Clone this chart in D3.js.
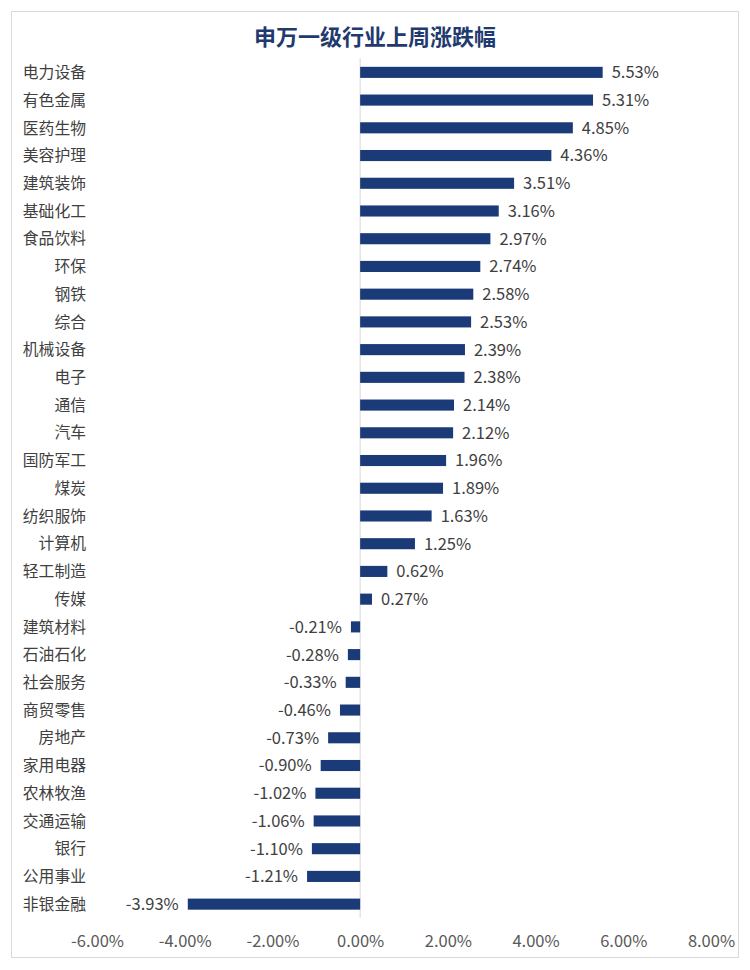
<!DOCTYPE html>
<html>
<head>
<meta charset="utf-8">
<script src="https://cdn.jsdelivr.net/npm/d3@7"></script>
<style>
  body { margin: 0; background: #fff; }
  svg text { font-family: "Noto Sans CJK SC", "Noto Sans", sans-serif; }
</style>
</head>
<body>
<div id="chart"></div>
<script>
// Chart size
var svgWidth = 750;
var svgHeight = 970;

// Data
var industries = ["电力设备", "有色金属", "医药生物", "美容护理", "建筑装饰", "基础化工", "食品饮料",
  "环保", "钢铁", "综合", "机械设备", "电子", "通信", "汽车", "国防军工", "煤炭", "纺织服饰",
  "计算机", "轻工制造", "传媒", "建筑材料", "石油石化", "社会服务", "商贸零售", "房地产",
  "家用电器", "农林牧渔", "交通运输", "银行", "公用事业", "非银金融"];
var changes = [5.53, 5.31, 4.85, 4.36, 3.51, 3.16, 2.97, 2.74, 2.58, 2.53, 2.39, 2.38, 2.14, 2.12,
  1.96, 1.89, 1.63, 1.25, 0.62, 0.27, -0.21, -0.28, -0.33, -0.46, -0.73, -0.90, -1.02, -1.06,
  -1.10, -1.21, -3.93];
var xTicks = [-6, -4, -2, 0, 2, 4, 6, 8];

var barColor = "#1b3a78";
var textColor = "#404040";

var svg = d3.select("#chart")
  .append("svg")
  .attr("width", svgWidth)
  .attr("height", svgHeight);

// frame
svg.append("rect")
  .attr("x", 11.5).attr("y", 11.5)
  .attr("width", 727).attr("height", 946)
  .attr("fill", "none")
  .attr("stroke", "#d9d9d9");

// title
svg.append("text")
  .attr("x", 375).attr("y", 45)
  .attr("text-anchor", "middle")
  .attr("font-size", 22)
  .attr("font-weight", "bold")
  .attr("fill", "#1f3a6e")
  .text("申万一级行业上周涨跌幅");

// scales
var xScale = d3.scaleLinear().domain([-6, 8]).range([97, 711]);
var yScale = d3.scaleBand().domain(industries).range([58.5, 918]).paddingInner(0.6).paddingOuter(0.3);

// zero line
svg.append("line")
  .attr("x1", xScale(0)).attr("x2", xScale(0))
  .attr("y1", 58).attr("y2", 918)
  .attr("stroke", "#d9d9d9");

var rows = industries.map(function(d, i) { return { name: d, value: changes[i] }; });

// bars
svg.append("g").selectAll("rect")
  .data(rows)
  .enter()
  .append("rect")
  .attr("x", d => xScale(Math.min(0, d.value)))
  .attr("y", d => yScale(d.name))
  .attr("width", d => Math.abs(xScale(d.value) - xScale(0)))
  .attr("height", yScale.bandwidth())
  .attr("fill", barColor);

// value labels
svg.append("g").selectAll("text")
  .data(rows)
  .enter()
  .append("text")
  .attr("x", d => d.value >= 0 ? xScale(d.value) + 9 : xScale(d.value) - 9)
  .attr("y", d => yScale(d.name) + yScale.bandwidth() / 2)
  .attr("dy", "0.36em")
  .attr("text-anchor", d => d.value >= 0 ? "start" : "end")
  .attr("font-size", 16.5)
  .attr("fill", textColor)
  .text(d => d.value.toFixed(2) + "%");

// category labels
svg.append("g").selectAll("text")
  .data(rows)
  .enter()
  .append("text")
  .attr("x", 86)
  .attr("y", d => yScale(d.name) + yScale.bandwidth() / 2)
  .attr("dy", "0.36em")
  .attr("text-anchor", "end")
  .attr("font-size", 15.8)
  .attr("fill", textColor)
  .text(d => d.name);

// x axis
var xAxis = svg.append("g")
  .attr("transform", "translate(0, 941)")
  .call(d3.axisBottom(xScale).tickValues(xTicks).tickSize(0).tickFormat(d => d.toFixed(2) + "%"));
xAxis.select(".domain").remove();
xAxis.selectAll("text")
  .attr("y", 0)
  .attr("dy", "0.36em")
  .attr("font-size", 16.5)
  .attr("font-family", "'Noto Sans CJK SC', sans-serif")
  .attr("fill", "#595959");
</script>
</body>
</html>
